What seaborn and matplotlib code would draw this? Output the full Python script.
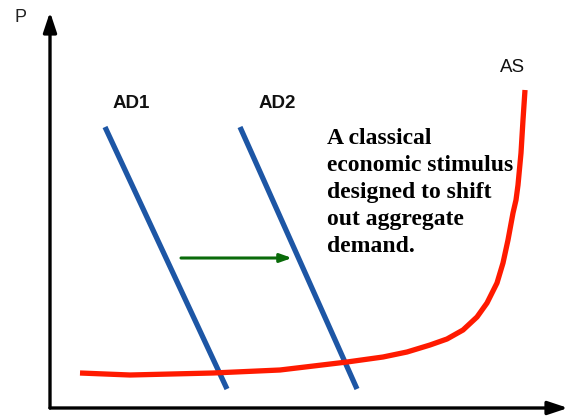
import numpy as np
import pandas as pd
import matplotlib.pyplot as plt
import seaborn as sns

# curves in (quantity, price) units measured from the origin of the axes
ad1_q = [55, 177]
ad1_p = [281, 19]
ad2_q = [190, 307]
ad2_p = [281, 19]
as_q = [30, 80, 163, 230, 297, 333, 357, 380, 397, 413, 427, 437, 447, 453, 458, 463,
        466, 468, 471, 473, 475]
as_p = [35, 33, 35, 38, 46, 51, 56, 63, 69, 78, 91, 105, 125, 145, 168, 195,
        208, 223, 255, 288, 318]
shift_start = (131, 150)
shift_end = (242, 150)

labels = {"AD1": (81, 304), "AD2": (227, 304), "AS": (463, 341)}
note = "A classical\neconomic stimulus\ndesigned to shift\nout aggregate\ndemand."

sns.set_style("white")
plt.rcParams["font.family"] = ["Liberation Sans", "DejaVu Sans"]

W, H = 570, 419
fig = plt.figure(figsize=(5.7, 4.19), dpi=100)
ax = fig.add_axes([50 / W, 11 / H, 518 / W, 396 / H])
ax.set_xlim(0, 518)
ax.set_ylim(0, 396)
for s in ax.spines.values():
    s.set_visible(False)
ax.set_xticks([])
ax.set_yticks([])

blue = "#1d56a5"
line_kw = dict(lw=3.8, sort=False, solid_joinstyle="round", solid_capstyle="butt")
sns.lineplot(x=ad1_q, y=ad1_p, ax=ax, color=blue, **line_kw)
sns.lineplot(x=ad2_q, y=ad2_p, ax=ax, color=blue, **line_kw)
sns.lineplot(x=as_q, y=as_p, ax=ax, color="#ff1a00", **line_kw)

# axes with arrow heads
arrow = dict(arrowstyle="-|>,head_length=1.2,head_width=0.4", color="black", lw=2.4,
             shrinkA=0, shrinkB=0)
ax.annotate("", xy=(0, 1.0), xytext=(0, 0), xycoords="axes fraction", arrowprops=arrow,
            annotation_clip=False)
ax.annotate("", xy=(1.0, 0), xytext=(0, 0), xycoords="axes fraction", arrowprops=arrow,
            annotation_clip=False)

# shift arrow
ax.annotate("", xy=shift_end, xytext=shift_start,
            arrowprops=dict(arrowstyle="-|>,head_length=0.7,head_width=0.25",
                            color="#0a6b0a", lw=2.2, shrinkA=0, shrinkB=0))

for name, (q, p) in labels.items():
    ax.text(q, p, name, ha="center", va="center", fontsize=13.5,
            fontweight="normal" if name == "AS" else "bold", color="#111111")

fig.text(21 / W, 1 - 17 / H, "P", ha="center", va="center", fontsize=13, color="#222222")

ax.text(277, 280, note, ha="left", va="top", fontsize=17, fontweight="bold",
        family=["Liberation Serif", "DejaVu Serif"], linespacing=1.37, color="black")

fig.savefig("out.png", dpi=100)
